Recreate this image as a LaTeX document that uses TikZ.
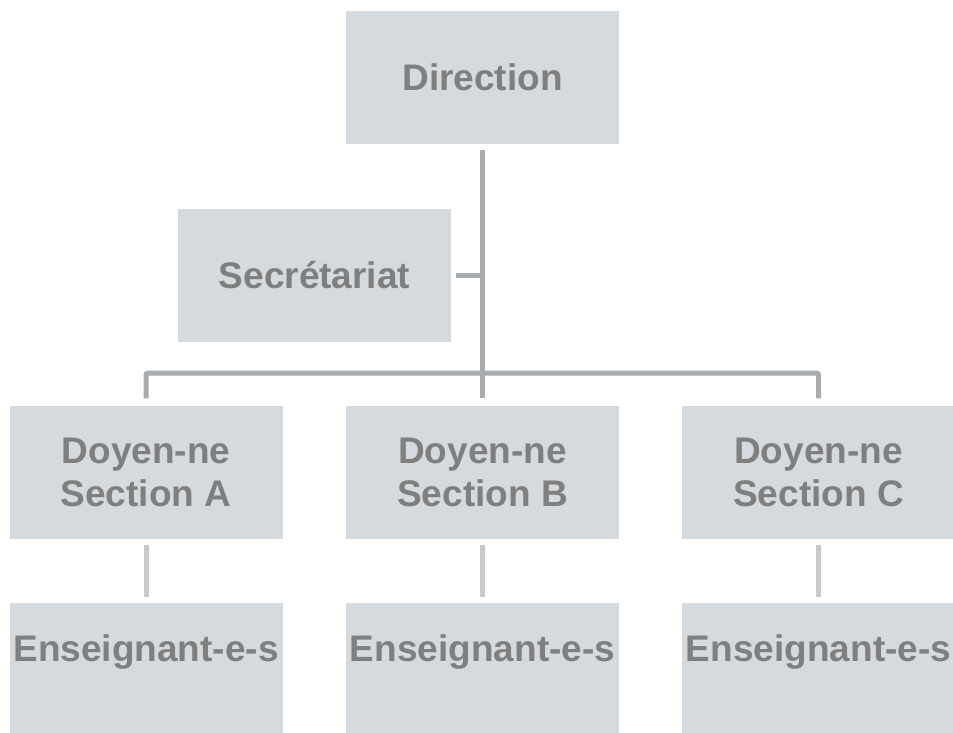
\documentclass[tikz,border=0pt]{standalone}
\usepackage{fontspec}
\setmainfont{Liberation Sans}
\definecolor{boxfill}{HTML}{D5DADE}
\definecolor{boxtext}{HTML}{7F7F7F}
\definecolor{linedark}{HTML}{A6ACAF}
\definecolor{linelight}{HTML}{C5CACD}
\tikzset{
  orgbox/.style={rectangle, fill=boxfill, draw=none, minimum width=273pt, minimum height=133pt, inner sep=0pt,
    text=boxtext, font=\fontsize{37}{43}\selectfont\bfseries, align=center},
  ensbox/.style={orgbox, text height=27pt, text depth=44pt},
  conn/.style={draw=linedark, line width=5pt, rounded corners=2pt},
  connlight/.style={draw=linelight, line width=5pt}
}
\begin{document}
\begin{tikzpicture}[x=1pt,y=1pt]
\useasboundingbox (0,0) rectangle (953,-733);
\node[orgbox] (dir) at (482.5,-77.5) {Direction};
\node[orgbox] (sec) at (314.5,-275) {Secrétariat};
\node[orgbox] (dA) at (146,-472) {Doyen-ne\\Section A};
\node[orgbox] (dB) at (482.5,-472) {Doyen-ne\\Section B};
\node[orgbox] (dC) at (818.5,-472) {Doyen-ne\\Section C};
\node[ensbox] (eA) at (146,-669.5) {Enseignant-e-s};
\node[ensbox] (eB) at (482.5,-669.5) {Enseignant-e-s};
\node[ensbox] (eC) at (818.5,-669.5) {Enseignant-e-s};
\coordinate (j) at (482.5,-373);
\draw[conn] ([yshift=-6pt]dir.south) -- ([yshift=7pt]dB.north);
\draw[conn] ([yshift=7pt]dA.north) |- (j) -| ([yshift=7pt]dC.north);
\draw[conn] ([xshift=5pt]sec.east) -- (dir.south |- sec.east);
\draw[connlight] ([yshift=-6pt]dA.south) -- ([yshift=6pt]eA.north);
\draw[connlight] ([yshift=-6pt]dB.south) -- ([yshift=6pt]eB.north);
\draw[connlight] ([yshift=-6pt]dC.south) -- ([yshift=6pt]eC.north);
\end{tikzpicture}
\end{document}
